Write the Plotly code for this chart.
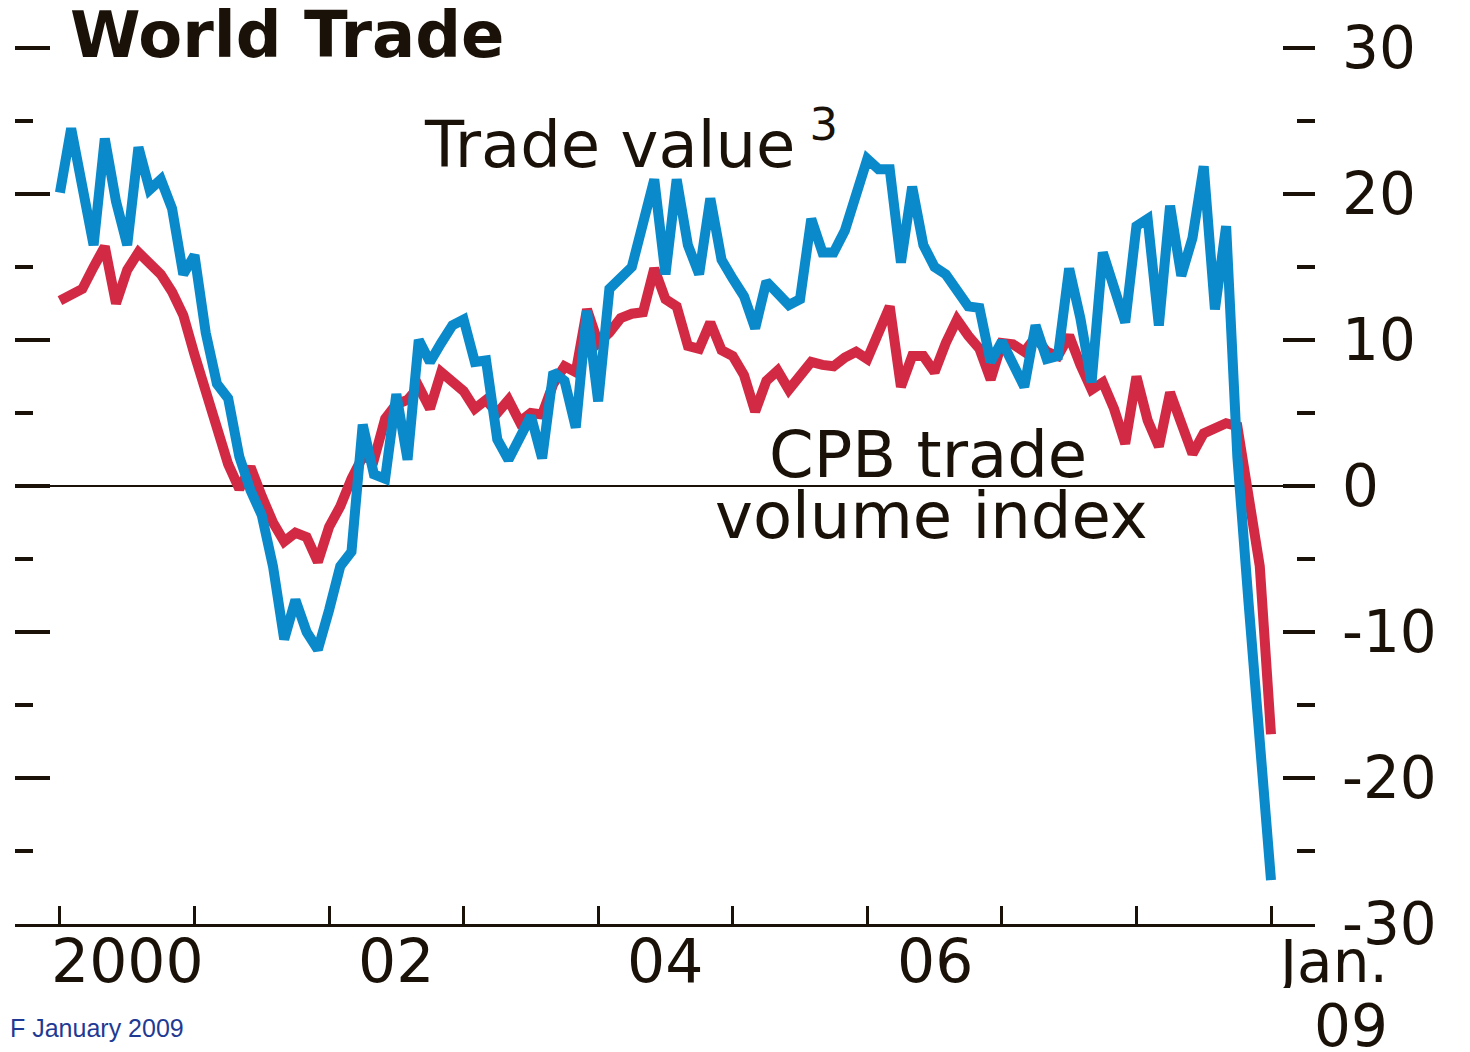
import plotly.graph_objects as go

# Monthly data, Jan 2000 .. Jan 2009 (percent change, y/y)
start_year = 2000
trade_value = [
    20.1, 24.5, 20.5, 16.5, 23.8, 19.5, 16.5, 23.2, 20.3, 21.0, 19.0, 14.5,
    15.8, 10.5, 7.0, 6.0, 2.0, -0.3, -2.0, -5.5, -10.5, -7.8, -10.0, -11.2,
    -8.5, -5.5, -4.5, 4.2, 0.8, 0.5, 6.3, 1.8, 10.0, 8.5, 9.8, 11.0,
    11.4, 8.5, 8.6, 3.2, 1.8, 3.2, 4.8, 1.9, 7.8, 7.2, 4.0, 12.0,
    5.8, 13.5, 14.3, 15.0, 18.0, 21.0, 14.5, 21.0, 16.5, 14.5, 19.7, 15.5,
    14.2, 13.0, 10.8, 14.0, 13.2, 12.4, 12.8, 18.3, 16.0, 16.0, 17.5, 20.0,
    22.4, 21.7, 21.7, 15.3, 20.5, 16.5, 15.0, 14.5, 13.5, 12.3, 12.2, 8.5,
    9.9, 8.3, 6.8, 11.0, 8.7, 8.9, 14.9, 11.5, 7.1, 16.0, 13.5, 11.2,
    17.8, 18.3, 11.0, 19.2, 14.4, 17.0, 21.9, 12.1, 17.8, 2.0, -8.0, -18.0,
    -27.0,
]
cpb_volume = [
    12.7, 13.1, 13.5, 15.0, 16.4, 12.5, 14.8, 16.0, 15.2, 14.5, 13.3, 11.7,
    9.0, 6.5, 4.5, 1.5, -0.2, 1.3, -0.7, -2.5, -3.8, -3.2, -3.5, -5.2,
    -2.8, -1.4, 0.5, 2.0, 1.8, 4.6, 5.6, 5.9, 6.8, 5.3, 7.8, 7.2,
    6.5, 5.3, 5.9, 5.0, 5.9, 4.4, 5.0, 4.9, 7.0, 8.2, 7.8, 12.1,
    9.8, 10.5, 11.5, 11.8, 11.9, 14.9, 12.8, 12.3, 9.6, 9.4, 11.2, 9.3,
    8.9, 7.6, 5.1, 7.2, 7.9, 6.6, 7.5, 8.5, 8.3, 8.2, 8.8, 9.2,
    8.7, 10.5, 12.3, 6.8, 8.9, 8.9, 7.8, 9.8, 11.4, 10.3, 9.4, 7.3,
    9.8, 9.7, 9.2, 10.2, 9.2, 8.9, 10.3, 8.3, 6.6, 7.1, 5.3, 2.9,
    7.5, 4.5, 2.7, 6.4, 4.2, 2.2, 3.6, 3.9, 4.3, 4.1, -1.0, -5.5,
    -17.0,
]
x_label_pos = [2000.5, 2002.5, 2004.5, 2006.5]
x_label_text = ["2000", "02", "04", "06"]
y_tick_vals = [30, 20, 10, 0, -10, -20, -30]
y_tick_text = ["30", "20", "10", "0", "-10", "-20", "-30"]

months = [start_year + i / 12 for i in range(len(trade_value))]

BLUE = "#0a8acb"
RED = "#d22a44"
INK = "#1a1208"
FONT = "DejaVu Sans"

# page offset from the default HTML body margin
OX, OY = 8, 8
W, H = 1470 - OX, 1052 - OY
L, R, T, B = 15 - OX, 155, 40 - OY, 128
pw, ph = W - L - R, H - T - B


def px(x):
    return (x - OX - L) / pw


def py(y):
    return (H - B - (y - OY)) / ph


fig = go.Figure()
fig.add_trace(go.Scatter(x=months, y=cpb_volume, mode="lines",
                         line=dict(color=RED, width=10), yaxis="y",
                         hoverinfo="skip", showlegend=False))
fig.add_trace(go.Scatter(x=months, y=trade_value, mode="lines",
                         line=dict(color=BLUE, width=10), yaxis="y2",
                         hoverinfo="skip", showlegend=False))

yr = [-30, 30.55]
fig.update_layout(
    width=W, height=H,
    margin=dict(l=L, r=R, t=T, b=B, autoexpand=False),
    paper_bgcolor="white", plot_bgcolor="white",
    showlegend=False,
    xaxis=dict(
        range=[1999.666, 2009.327],
        showgrid=False, zeroline=False,
        showline=True, linecolor=INK, linewidth=3,
        tickmode="linear", tick0=2000, dtick=1,
        ticks="inside", ticklen=18, tickwidth=3, tickcolor=INK,
        showticklabels=False,
    ),
    yaxis=dict(
        range=yr, showgrid=False,
        zeroline=True, zerolinecolor=INK, zerolinewidth=1.5,
        showline=False, showticklabels=False,
        tickmode="linear", tick0=0, dtick=10,
        ticks="inside", ticklen=35, tickwidth=4, tickcolor=INK,
        minor=dict(tickmode="linear", tick0=5, dtick=10, ticks="inside",
                   ticklen=18, tickwidth=4, tickcolor=INK),
    ),
    yaxis2=dict(
        range=yr, overlaying="y", side="right", showgrid=False,
        zeroline=False, showline=False,
        tickvals=y_tick_vals, ticktext=y_tick_text,
        ticks="inside", ticklen=32, tickwidth=4, tickcolor=INK,
        minor=dict(tickmode="linear", tick0=5, dtick=10, ticks="inside",
                   ticklen=18, tickwidth=4, tickcolor=INK),
        ticklabelstandoff=26,
        tickfont=dict(family=FONT, size=58, color=INK),
    ),
)

# x-axis year labels, centred between the year ticks
for xv, lab in zip(x_label_pos, x_label_text):
    fig.add_annotation(text=lab, x=xv, y=py(961), xref="x", yref="paper",
                       xanchor="center", yanchor="middle", showarrow=False,
                       font=dict(family=FONT, size=60, color=INK))

fig.add_annotation(text="<b>World Trade</b>", x=px(68), y=py(35),
                   xref="paper", yref="paper", xanchor="left", yanchor="middle",
                   height=56, valign="middle",
                   showarrow=False, font=dict(family=FONT, size=64, color=INK))
fig.add_annotation(text="Trade value<sup> 3</sup>", x=px(422), y=py(140),
                   xref="paper", yref="paper", xanchor="left", yanchor="middle",
                   showarrow=False, font=dict(family=FONT, size=64, color=INK))
fig.add_annotation(text="CPB trade", x=px(928), y=py(455),
                   xref="paper", yref="paper", xanchor="center", yanchor="middle",
                   height=56, valign="middle",
                   showarrow=False, font=dict(family=FONT, size=64, color=INK))
fig.add_annotation(text="volume index", x=px(931), y=py(516),
                   xref="paper", yref="paper", xanchor="center", yanchor="middle",
                   height=56, valign="middle",
                   showarrow=False, font=dict(family=FONT, size=64, color=INK))
fig.add_annotation(text="Jan.", x=px(1390), y=py(962),
                   xref="paper", yref="paper", xanchor="right", yanchor="middle",
                   height=52, valign="middle",
                   showarrow=False, font=dict(family=FONT, size=58, color=INK))
fig.add_annotation(text="09", x=px(1390), y=py(1026),
                   xref="paper", yref="paper", xanchor="right", yanchor="middle",
                   height=50, valign="middle",
                   showarrow=False, font=dict(family=FONT, size=58, color=INK))
fig.add_annotation(text="F January 2009", x=px(OX), y=py(1028),
                   xref="paper", yref="paper", xanchor="left", yanchor="middle",
                   showarrow=False,
                   font=dict(family="Liberation Sans", size=25, color="#1f3a93"))

fig.write_html("out.html")
